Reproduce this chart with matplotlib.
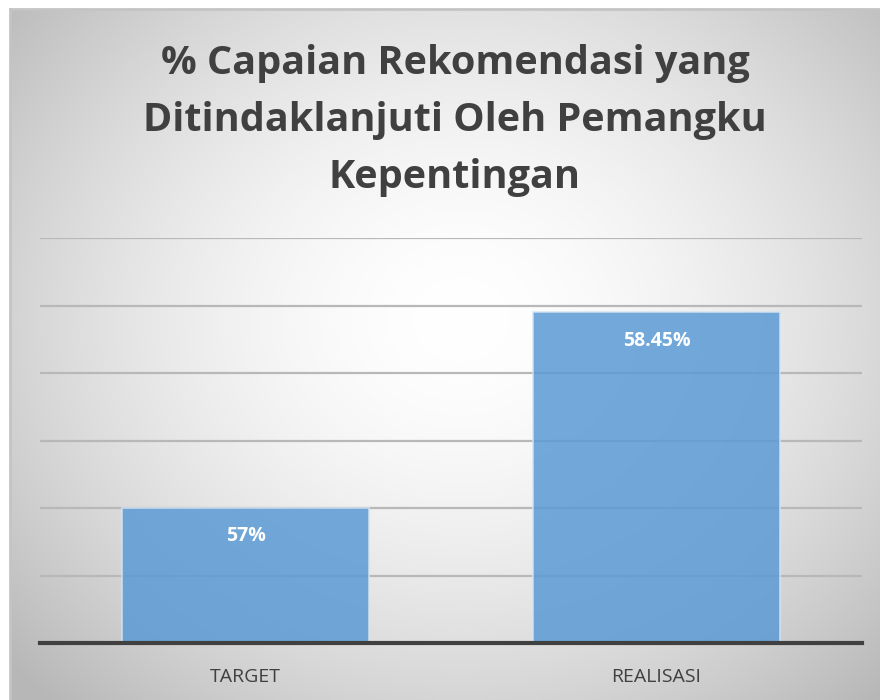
import numpy as np
import matplotlib
matplotlib.use('Agg')
import matplotlib.pyplot as plt

kategori = ['TARGET', 'REALISASI']
nilai = [57.0, 58.45]
label_nilai = ['57%', '58.45%']
judul = '% Capaian Rekomendasi yang\nDitindaklanjuti Oleh Pemangku\nKepentingan'

plt.rcParams['font.family'] = ['Open Sans', 'DejaVu Sans']

fig = plt.figure(figsize=(8.8, 7), dpi=100)
fig.patch.set_facecolor('white')

# latar: gradasi radial putih ke abu-abu
bg = fig.add_axes([10 / 880, 0, 870 / 880, 691 / 700])
h, w = 691, 870
yy, xx = np.mgrid[0:h, 0:w]
cx, cy = 450, 310
r = np.sqrt(((xx - cx) / 600) ** 2 + ((yy - cy) / 520) ** 2)
shade = 1.0 - 0.28 * np.clip(r, 0, 1) ** 1.7
bg.imshow(np.dstack([shade] * 3), aspect='auto', extent=(0, 1, 0, 1))
bg.set_axis_off()
fig.add_artist(plt.Line2D([10 / 880, 10 / 880], [0, 691 / 700], color='#c4c4c4', lw=2))
fig.add_artist(plt.Line2D([10 / 880, 1], [691 / 700, 691 / 700], color='#c4c4c4', lw=2))

ax = fig.add_axes([40 / 880, 57 / 700, 822 / 880, 405 / 700])
ax.patch.set_alpha(0)
x = np.arange(len(kategori))
ax.set_ylim(56, 59)
ax.set_xlim(-0.5, len(kategori) - 0.5)
ax.set_yticks(np.arange(56, 59.01, 0.5))
ax.yaxis.grid(True, color='#b8b8b8', lw=1.6)
ax.set_axisbelow(True)
bars = ax.bar(x, nilai, width=0.6, bottom=0, color='#5b9bd5', alpha=0.85,
              edgecolor='#d6e4f2', lw=1.2, zorder=3)
for xi, v, t in zip(x, nilai, label_nilai):
    ax.text(xi, v - 0.21, t, ha='center', va='center', color='white',
            fontsize=14, fontweight='bold', zorder=4)

for s in ['top', 'right', 'left']:
    ax.spines[s].set_visible(False)
ax.spines['bottom'].set_color('#404040')
ax.spines['bottom'].set_linewidth(3)
ax.spines['bottom'].set_zorder(5)
ax.set_xticks(x)
ax.set_xticklabels(kategori, fontsize=14, color='#404040')
ax.tick_params(axis='x', length=0, pad=18)
ax.tick_params(axis='y', length=0, labelleft=False)

fig.text(0.517, 0.937, judul, ha='center', va='top', fontsize=28.5,
         fontweight='bold', color='#404040', linespacing=1.6)

fig.savefig('out.png', dpi=100)
